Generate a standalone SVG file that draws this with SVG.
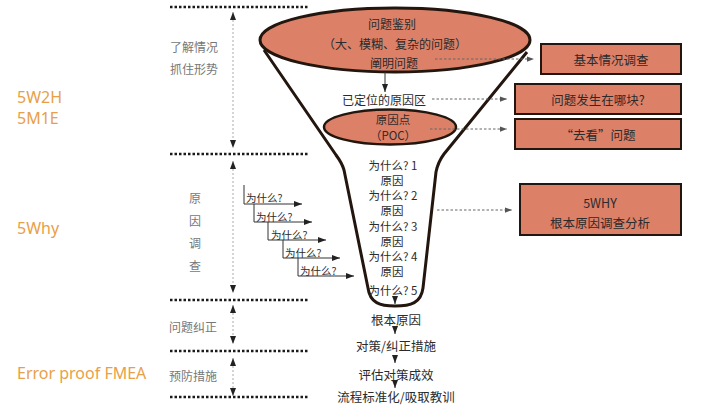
<svg xmlns="http://www.w3.org/2000/svg" width="701" height="410" viewBox="0 0 701 410">
<style>
.cjk{font-family:"Noto Sans CJK SC","Noto Sans",sans-serif;fill:#2b2b2b}
.why{font-family:"Noto Sans CJK SC","Noto Sans",sans-serif;fill:#2b2b2b;font-size:11.5px}
.gray{font-family:"Noto Sans CJK SC","Noto Sans",sans-serif;fill:#777;font-size:12px}
.org{font-family:"Noto Sans","Noto Sans CJK SC",sans-serif;fill:#E8A048;font-size:16px}
.sec{stroke:#1a1a1a;stroke-width:2.5;stroke-dasharray:2.5 2;fill:none}
.vdash{stroke:#aaa;stroke-width:1;stroke-dasharray:2 2;fill:none}
.dot{stroke:#666;stroke-width:1;stroke-dasharray:2.5 2;fill:none}
.solid{stroke:#333;stroke-width:1;fill:none}
.shape{fill:#DD8068;stroke:#23160f}
.box{fill:#DD8068;stroke:#23160f;stroke-width:2}
text{dominant-baseline:central}
</style>
<defs>
<marker id="ah" viewBox="0 0 8 8" refX="8" refY="4" markerWidth="8" markerHeight="8" markerUnits="userSpaceOnUse" orient="auto-start-reverse"><path d="M0,1 L8,4 L0,7 Z" fill="#222"/></marker>
<marker id="ahs" viewBox="0 0 8 8" refX="8" refY="4" markerWidth="7" markerHeight="7" markerUnits="userSpaceOnUse" orient="auto"><path d="M0,1 L8,4 L0,7 Z" fill="#555"/></marker>
</defs>

<g id="sections">
<line class="sec" x1="170" y1="7" x2="308" y2="7"/>
<line class="sec" x1="170" y1="154" x2="308" y2="154"/>
<line class="sec" x1="170" y1="300" x2="308" y2="300"/>
<line class="sec" x1="170" y1="351" x2="308" y2="351"/>
<line class="sec" x1="170" y1="397" x2="308" y2="397"/>
<line class="vdash" x1="233" y1="12" x2="233" y2="148" marker-start="url(#ah)" marker-end="url(#ah)"/>
<line class="vdash" x1="233" y1="161" x2="233" y2="293" marker-start="url(#ah)" marker-end="url(#ah)"/>
<line class="vdash" x1="233" y1="305" x2="233" y2="344" marker-start="url(#ah)" marker-end="url(#ah)"/>
<line class="vdash" x1="233" y1="358" x2="233" y2="396" marker-start="url(#ah)" marker-end="url(#ah)"/>
</g>

<g id="left-labels">
<text class="gray" x="170" y="46">了解情况</text>
<text class="gray" x="170" y="68">抓住形势</text>
<text class="gray" x="195" y="197" text-anchor="middle">原</text>
<text class="gray" x="195" y="220" text-anchor="middle">因</text>
<text class="gray" x="195" y="242" text-anchor="middle">调</text>
<text class="gray" x="195" y="265" text-anchor="middle">查</text>
<text class="gray" x="169" y="326">问题纠正</text>
<text class="gray" x="169" y="375">预防措施</text>
<text class="org" x="17" y="97">5W2H</text>
<text class="org" x="17" y="118">5M1E</text>
<text class="org" x="17" y="228">5Why</text>
<text class="org" x="17" y="373">Error proof FMEA</text>
</g>

<g id="funnel">
<path d="M264,50 L336,155 Q342,163 344,170 L368,288 C370,303 380,306 395,306 C411,306 421,303 423,288 L436,172 Q438,162 444,154 L527,52" fill="none" stroke="#23160f" stroke-width="3" stroke-linejoin="round"/>
</g>

<g id="node-problem">
<ellipse class="shape" cx="395" cy="40" rx="135" ry="32" stroke-width="3"/>
<text class="cjk" x="392" y="23" font-size="12" text-anchor="middle">问题鉴别</text>
<text class="cjk" x="395" y="43" font-size="12" text-anchor="middle">（大、模糊、复杂的问题）</text>
<text class="cjk" x="394" y="62" font-size="12" text-anchor="middle">阐明问题</text>
</g>

<g id="node-area">
<text class="cjk" x="384" y="99" font-size="12" text-anchor="middle">已定位的原因区</text>
</g>

<g id="node-poc">
<ellipse class="shape" cx="390" cy="127" rx="66" ry="17.5" stroke-width="2.5"/>
<text class="cjk" x="393" y="118.5" font-size="11.5" text-anchor="middle">原因点</text>
<text class="cjk" x="393" y="134.5" font-size="11.5" text-anchor="middle">（POC）</text>
</g>

<g id="node-whys">
<text class="why" x="393" y="165" text-anchor="middle">为什么? 1</text>
<text class="why" x="392" y="180" text-anchor="middle">原因</text>
<text class="why" x="393" y="195" text-anchor="middle">为什么? 2</text>
<text class="why" x="392" y="210" text-anchor="middle">原因</text>
<text class="why" x="393" y="225.5" text-anchor="middle">为什么? 3</text>
<text class="why" x="392" y="240.5" text-anchor="middle">原因</text>
<text class="why" x="393" y="255.5" text-anchor="middle">为什么? 4</text>
<text class="why" x="392" y="270.5" text-anchor="middle">原因</text>
<text class="why" x="393" y="290" text-anchor="middle">为什么? 5</text>
</g>

<g id="node-root">
<text class="cjk" x="396" y="319" font-size="12.5" text-anchor="middle">根本原因</text>
</g>
<g id="node-action">
<text class="cjk" x="396" y="345" font-size="12.5" text-anchor="middle">对策/纠正措施</text>
</g>
<g id="node-eval">
<text class="cjk" x="396" y="374" font-size="12.5" text-anchor="middle">评估对策成效</text>
</g>
<g id="node-standard">
<text class="cjk" x="396" y="396" font-size="12.5" text-anchor="middle">流程标准化/吸取教训</text>
</g>

<g id="staircase">
<text class="cjk" x="246" y="197" font-size="10.5">为什么?</text>
<text class="cjk" x="256" y="216" font-size="10.5">为什么?</text>
<text class="cjk" x="271" y="234" font-size="10.5">为什么?</text>
<text class="cjk" x="285" y="252" font-size="10.5">为什么?</text>
<text class="cjk" x="300" y="270" font-size="10.5">为什么?</text>
</g>

<g id="box-basic">
<rect class="box" x="541" y="44" width="140" height="30"/>
<text class="cjk" x="611" y="59" font-size="12.5" text-anchor="middle">基本情况调查</text>
</g>
<g id="box-where">
<rect class="box" x="515" y="84" width="166" height="30"/>
<text class="cjk" x="598" y="99" font-size="12.5" text-anchor="middle">问题发生在哪块?</text>
</g>
<g id="box-look">
<rect class="box" x="515" y="119" width="166" height="30"/>
<text class="cjk" x="598" y="134" font-size="12.5" text-anchor="middle">“去看”问题</text>
</g>
<g id="box-5why">
<rect class="box" x="520" y="184" width="161" height="51"/>
<text class="cjk" x="600" y="202" font-size="12.5" text-anchor="middle">5WHY</text>
<text class="cjk" x="600" y="222" font-size="12.5" text-anchor="middle">根本原因调查分析</text>
</g>

<g id="connectors">
<line class="dot" x1="435" y1="59" x2="534" y2="59" marker-end="url(#ahs)"/>
<line class="dot" x1="432" y1="99" x2="507" y2="99" marker-end="url(#ahs)"/>
<line class="dot" x1="430" y1="129" x2="507" y2="129" marker-end="url(#ahs)"/>
<line class="dot" x1="437" y1="210" x2="512" y2="210" marker-end="url(#ahs)"/>
<line class="solid" x1="385" y1="72" x2="385" y2="92" marker-end="url(#ah)"/>
<line class="solid" x1="395" y1="296" x2="395" y2="304" marker-end="url(#ah)"/>
<line class="solid" x1="395" y1="326" x2="395" y2="334" marker-end="url(#ah)"/>
<line class="solid" x1="395" y1="355" x2="395" y2="363" marker-end="url(#ah)"/>
<line class="solid" x1="395" y1="381" x2="395" y2="388" marker-end="url(#ah)"/>
<polyline class="solid" points="244,185 244,204 302,204" marker-end="url(#ah)"/>
<polyline class="solid" points="254,204 254,222 312,222" marker-end="url(#ah)"/>
<polyline class="solid" points="268,222 268,240 326,240" marker-end="url(#ah)"/>
<polyline class="solid" points="283,240 283,258 340,258" marker-end="url(#ah)"/>
<polyline class="solid" points="298,258 298,276 354,276" marker-end="url(#ah)"/>
</g>
</svg>
